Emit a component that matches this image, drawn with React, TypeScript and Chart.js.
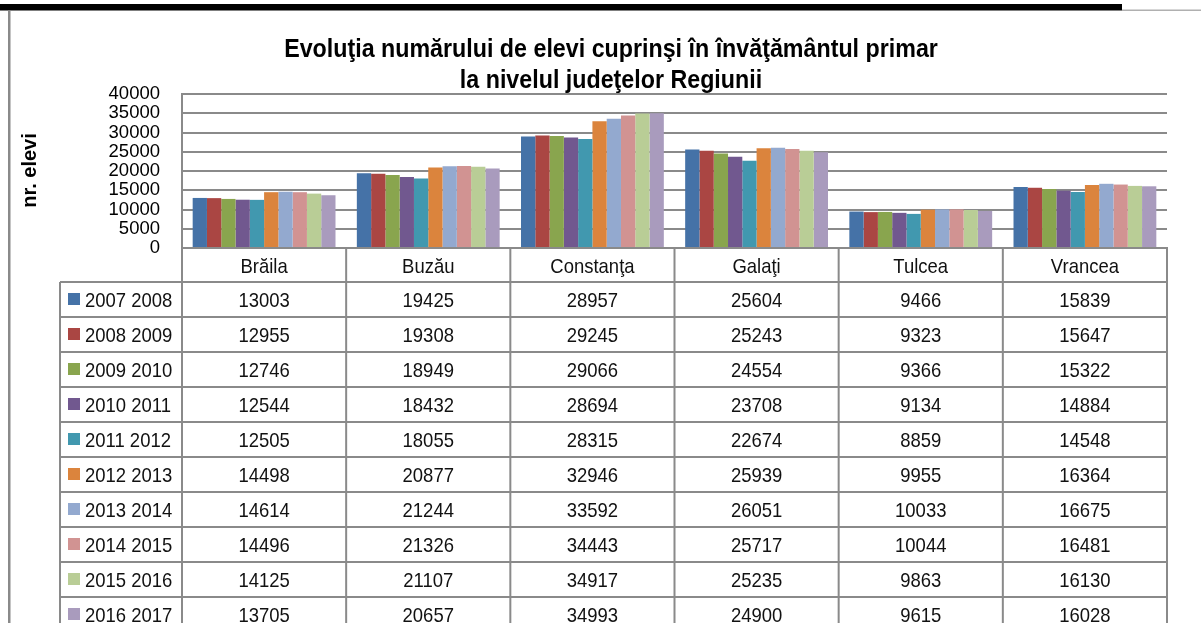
import React, { useEffect, useRef } from 'react';
import { Chart, registerables } from 'chart.js';

Chart.register(...registerables);

const TITLE_LINES = [
  'Evoluţia numărului de elevi cuprinşi în învăţământul primar',
  'la nivelul judeţelor Regiunii',
];
const Y_TITLE = 'nr. elevi';
const COUNTIES = ['Brăila', 'Buzău', 'Constanţa', 'Galaţi', 'Tulcea', 'Vrancea'];
const YEARS = [
  '2007 2008', '2008 2009', '2009 2010', '2010 2011', '2011 2012',
  '2012 2013', '2013 2014', '2014 2015', '2015 2016', '2016 2017',
];
const V_2007_2008 = [13003, 19425, 28957, 25604, 9466, 15839];
const V_2008_2009 = [12955, 19308, 29245, 25243, 9323, 15647];
const V_2009_2010 = [12746, 18949, 29066, 24554, 9366, 15322];
const V_2010_2011 = [12544, 18432, 28694, 23708, 9134, 14884];
const V_2011_2012 = [12505, 18055, 28315, 22674, 8859, 14548];
const V_2012_2013 = [14498, 20877, 32946, 25939, 9955, 16364];
const V_2013_2014 = [14614, 21244, 33592, 26051, 10033, 16675];
const V_2014_2015 = [14496, 21326, 34443, 25717, 10044, 16481];
const V_2015_2016 = [14125, 21107, 34917, 25235, 9863, 16130];
const V_2016_2017 = [13705, 20657, 34993, 24900, 9615, 16028];
const SERIES_VALUES = [
  V_2007_2008, V_2008_2009, V_2009_2010, V_2010_2011, V_2011_2012,
  V_2012_2013, V_2013_2014, V_2014_2015, V_2015_2016, V_2016_2017,
];
const COLORS = [
  '#4572A7', '#AA4643', '#89A54E', '#71588F', '#4198AF',
  '#DB843D', '#93A9CF', '#D19392', '#B9CD96', '#A99BBD',
];
const Y_MIN = 0;
const Y_MAX = 40000;
const Y_STEP = 5000;

const FONT = "'Liberation Sans', Arial, Helvetica, sans-serif";
const GRID = '#8a8a8a';

function drawScaled(ctx: CanvasRenderingContext2D, s: string, x: number, y: number, align: CanvasTextAlign, sx: number) {
  ctx.save();
  ctx.translate(x, y);
  ctx.scale(sx, 1);
  ctx.textAlign = align;
  ctx.textBaseline = 'alphabetic';
  ctx.fillText(s, 0, 0);
  ctx.restore();
}

const decorPlugin = {
  id: 'decor',
  afterDraw(chart: any) {
    const ctx: CanvasRenderingContext2D = chart.ctx;
    const W = chart.width;
    const H = chart.height;
    const { right, bottom } = chart.chartArea;
    const xs = chart.scales.x;
    ctx.save();

    // page decorations
    ctx.fillStyle = '#000';
    ctx.fillRect(0, 4, 1122, 6.5);
    ctx.fillStyle = '#b0b0b0';
    ctx.fillRect(1122, 9.5, W - 1122, 1.5);
    ctx.fillStyle = '#8a8a8a';
    ctx.fillRect(8, 10.5, 2.5, H - 10.5);

    // title
    ctx.fillStyle = '#000';
    ctx.font = `bold 25px ${FONT}`;
    drawScaled(ctx, TITLE_LINES[0], 611, 56.5, 'center', 0.93);
    drawScaled(ctx, TITLE_LINES[1], 611, 87.5, 'center', 0.93);

    // y axis title
    ctx.save();
    ctx.translate(36, 170.5);
    ctx.rotate(-Math.PI / 2);
    ctx.font = `bold 20px ${FONT}`;
    ctx.textAlign = 'center';
    ctx.textBaseline = 'alphabetic';
    ctx.fillText(Y_TITLE, 0, 0);
    ctx.restore();

    // data table
    const headerH = 34;
    const rowH = 35;
    const legendLeft = 60;
    const tableTop = bottom + headerH;
    const colW = xs.width / COUNTIES.length;
    ctx.strokeStyle = GRID;
    ctx.lineWidth = 2;
    ctx.beginPath();
    for (let i = 0; i <= COUNTIES.length; i++) {
      const x = xs.getPixelForValue(i) - colW / 2;
      ctx.moveTo(x, bottom);
      ctx.lineTo(x, H);
    }
    ctx.moveTo(legendLeft, tableTop);
    ctx.lineTo(legendLeft, H);
    for (let r = 0; r <= YEARS.length; r++) {
      const y = tableTop + r * rowH;
      ctx.moveTo(legendLeft, y);
      ctx.lineTo(right, y);
    }
    ctx.stroke();

    ctx.fillStyle = '#111';
    ctx.font = `21px ${FONT}`;
    COUNTIES.forEach((c, i) => {
      drawScaled(ctx, c, xs.getPixelForValue(i), bottom + 25, 'center', 0.88);
    });
    YEARS.forEach((yr, r) => {
      const top = tableTop + r * rowH;
      ctx.fillStyle = COLORS[r];
      ctx.fillRect(68, top + 11, 12, 12);
      ctx.fillStyle = '#111';
      drawScaled(ctx, yr, 85, top + 24.5, 'left', 0.88);
      SERIES_VALUES[r].forEach((v, i) => {
        drawScaled(ctx, String(v), xs.getPixelForValue(i), top + 24.5, 'center', 0.88);
      });
    });
    ctx.restore();
  },
};

export default function App() {
  const ref = useRef<HTMLCanvasElement | null>(null);
  useEffect(() => {
    if (!ref.current) return;
    const chart = new Chart(ref.current, {
      type: 'bar',
      data: {
        labels: COUNTIES,
        datasets: YEARS.map((y, i) => ({
          label: y,
          data: SERIES_VALUES[i],
          backgroundColor: COLORS[i],
          borderWidth: 0,
          categoryPercentage: 0.87,
          barPercentage: 1.0,
        })),
      },
      options: {
        animation: false,
        responsive: false,
        devicePixelRatio: 1,
        layout: { padding: { top: 94, right: 34, bottom: 0, left: 0 } },
        plugins: {
          legend: { display: false },
          title: { display: false },
          tooltip: { enabled: false },
        },
        scales: {
          x: {
            type: 'category',
            ticks: { display: false },
            grid: { display: false },
            border: { display: true, color: GRID, width: 2 },
            afterFit: (s: any) => { s.height = 623 - 248; },
          },
          y: {
            min: Y_MIN,
            max: Y_MAX,
            ticks: {
              stepSize: Y_STEP,
              autoSkip: false,
              padding: 22,
              color: '#000',
              font: { family: FONT, size: 18.5 },
              callback: (v: any) => String(v),
            },
            grid: { color: GRID, lineWidth: 2, drawTicks: false },
            border: { display: true, color: GRID, width: 2 },
            afterFit: (s: any) => { s.width = 182; },
          },
        },
      },
      plugins: [decorPlugin],
    });
    return () => chart.destroy();
  }, []);
  return (
    <div style={{ position: 'fixed', left: 0, top: 0, width: 1201, height: 623, background: '#fff' }}>
      <canvas ref={ref} width={1201} height={623} style={{ display: 'block', width: 1201, height: 623 }} />
    </div>
  );
}
